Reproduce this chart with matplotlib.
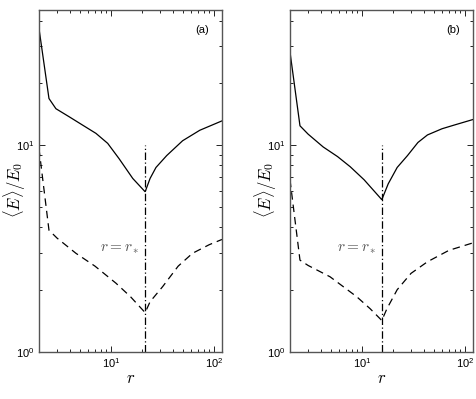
import numpy as np
import matplotlib
matplotlib.use("Agg")
import matplotlib.pyplot as plt
from matplotlib.ticker import LogLocator, NullFormatter

plt.rcParams['mathtext.fontset'] = 'cm'
plt.rcParams['font.family'] = ['Liberation Sans', 'DejaVu Sans']

# Panel (a)
r_a_solid = [2.0, 2.5, 2.92, 3.94, 5.3, 7.15, 9.3, 12.0, 16.3, 21.5, 24.0, 27.4, 34.8, 49.7, 73.0, 120.0]
E_a_solid = [36.6, 16.8, 15.0, 13.7, 12.5, 11.4, 10.2, 8.6, 6.9, 5.95, 6.9, 7.8, 8.9, 10.5, 11.8, 13.1]
r_a_dash = [2.0, 2.5, 3.0, 4.57, 7.0, 11.2, 15.5, 21.5, 24.0, 31.8, 45.0, 62.0, 90.0, 120.0]
E_a_dash = [9.6, 3.88, 3.55, 3.0, 2.6, 2.15, 1.85, 1.55, 1.75, 2.07, 2.6, 3.0, 3.3, 3.5]
rstar_a = 21.5

# Panel (b)
r_b_solid = [2.0, 2.5, 3.0, 4.2, 5.8, 7.7, 10.5, 15.6, 18.0, 22.0, 27.7, 35.0, 43.3, 60.0, 78.7, 120.0]
E_b_solid = [28.2, 12.4, 11.3, 9.8, 8.8, 7.86, 6.8, 5.45, 6.5, 7.8, 8.9, 10.3, 11.2, 12.0, 12.5, 13.3]
r_b_dash = [2.0, 2.5, 3.0, 4.9, 8.9, 12.0, 15.6, 17.5, 22.0, 30.0, 43.3, 70.0, 120.0]
E_b_dash = [6.8, 2.78, 2.62, 2.31, 1.85, 1.62, 1.42, 1.62, 2.0, 2.4, 2.73, 3.1, 3.37]
rstar_b = 15.6

panels = [
    ("(a)", r_a_solid, E_a_solid, r_a_dash, E_a_dash, rstar_a, [39, 222], 15),
    ("(b)", r_b_solid, E_b_solid, r_b_dash, E_b_dash, rstar_b, [290, 473], 266),
]

W, H = 477, 399
fig = plt.figure(figsize=(W / 100, H / 100), dpi=100)

for label, rs, es, rd, ed, rstar, (x0, x1), ylx in panels:
    top, bot = 10, 352
    ax = fig.add_axes([x0 / W, 1 - bot / H, (x1 - x0) / W, (bot - top) / H])
    ax.set_xscale('log')
    ax.set_yscale('log')
    ax.plot(rs, es, color='black', lw=0.9, solid_joinstyle='miter')
    ax.plot(rd, ed, color='black', lw=0.9, dashes=(6, 4))
    ax.plot([rstar, rstar], [1, 10], color='black', lw=0.9, dashes=(6, 2, 1, 2))
    ax.set_xlim(2, 120)
    ax.set_ylim(1, 45)
    ax.text(rstar * 0.88, 3.15, r'$r = r_*$', ha='right', va='center', fontsize=11, color='#555555')
    ax.text(0.93, 0.955, label, transform=ax.transAxes, ha='right', va='top', fontsize=8)
    ax.set_xlabel(r'$r$', fontsize=12, labelpad=1)
    fig.text(ylx / W, 1 - 190 / H, r'$\langle E\rangle/E_0$', rotation=90,
             ha='center', va='center', fontsize=12)
    ax.xaxis.set_major_locator(LogLocator(base=10, numticks=10))
    ax.yaxis.set_major_locator(LogLocator(base=10, numticks=10))
    ax.xaxis.set_minor_locator(LogLocator(base=10, subs=np.arange(2, 10), numticks=20))
    ax.yaxis.set_minor_locator(LogLocator(base=10, subs=np.arange(2, 10), numticks=20))
    ax.xaxis.set_minor_formatter(NullFormatter())
    ax.yaxis.set_minor_formatter(NullFormatter())
    ax.tick_params(which='both', direction='in', top=True, right=True, labelsize=8, pad=3)
    ax.tick_params(which='major', length=4, width=0.6)
    ax.tick_params(which='minor', length=2, width=0.6)
    for s in ax.spines.values():
        s.set_color('#555555')
        s.set_linewidth(1.0)

fig.savefig('out.png', dpi=100)
